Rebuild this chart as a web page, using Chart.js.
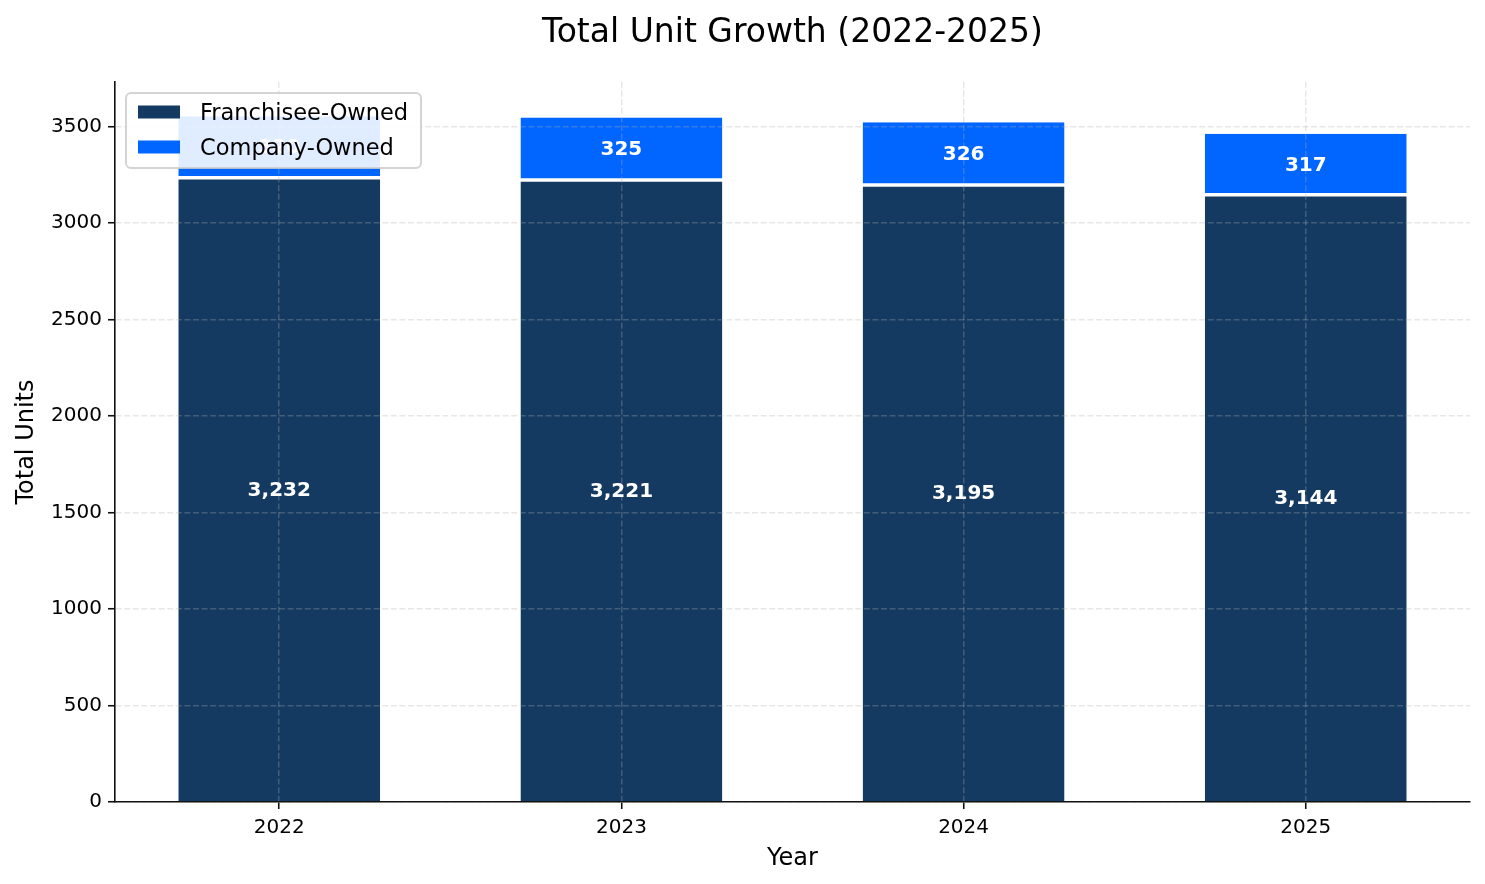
<!DOCTYPE html>
<html>
<head>
<meta charset="utf-8">
<script src="https://cdn.jsdelivr.net/npm/chart.js@4.4.1/dist/chart.umd.min.js"></script>
<style>
  html, body { margin: 0; padding: 0; background: #ffffff; }
  #wrap { width: 1485px; height: 884px; position: relative; }
</style>
</head>
<body>
<div id="wrap"><canvas id="c"></canvas></div>
<script>
// ---- data ----
const years = ['2022', '2023', '2024', '2025'];
const franchiseeOwned = [3232, 3221, 3195, 3144];
const companyOwned = [320, 325, 326, 317];
const seriesNames = ['Franchisee-Owned', 'Company-Owned'];
const yTickValues = [0, 500, 1000, 1500, 2000, 2500, 3000, 3500];
const chartTitle = 'Total Unit Growth (2022-2025)';
const xTitle = 'Year';
const yTitle = 'Total Units';

// ---- style ----
const FONT = "'DejaVu Sans', 'Liberation Sans', sans-serif";
const DARK = '#143a62';
const BLUE = '#0066ff';
const GRID = 'rgba(176,176,176,0.3)';
const AXIS = '#111111';

const yMax = Math.max(...franchiseeOwned.map((v, i) => v + companyOwned[i])) * 1.05;

const toPoints = arr => arr.map((v, i) => ({ x: i, y: v }));

const overlayPlugin = {
  id: 'overlay',
  afterDraw(chart) {
    const ctx = chart.ctx;
    const area = chart.chartArea;
    ctx.save();
    // title
    ctx.fillStyle = '#000';
    ctx.font = `33px ${FONT}`;
    ctx.textAlign = 'center';
    ctx.textBaseline = 'middle';
    ctx.fillText(chartTitle, (area.left + area.right) / 2, 33);

    // value labels
    ctx.font = `bold 20px ${FONT}`;
    ctx.fillStyle = '#ffffff';
    chart.data.datasets.forEach((ds, di) => {
      const meta = chart.getDatasetMeta(di);
      meta.data.forEach((bar, i) => {
        const p = bar.getProps(['x', 'y', 'base'], true);
        const v = ds.data[i].y;
        const txt = di === 0 ? v.toLocaleString('en-US') : String(v);
        ctx.fillText(txt, p.x, (p.y + p.base) / 2 + 1);
      });
    });

    // legend
    const lx = 126, ly = 93, lw = 295, lh = 75, r = 5;
    ctx.beginPath();
    ctx.moveTo(lx + r, ly);
    ctx.lineTo(lx + lw - r, ly);
    ctx.arcTo(lx + lw, ly, lx + lw, ly + r, r);
    ctx.lineTo(lx + lw, ly + lh - r);
    ctx.arcTo(lx + lw, ly + lh, lx + lw - r, ly + lh, r);
    ctx.lineTo(lx + r, ly + lh);
    ctx.arcTo(lx, ly + lh, lx, ly + lh - r, r);
    ctx.lineTo(lx, ly + r);
    ctx.arcTo(lx, ly, lx + r, ly, r);
    ctx.closePath();
    ctx.fillStyle = 'rgba(255,255,255,0.88)';
    ctx.fill();
    ctx.lineWidth = 2;
    ctx.strokeStyle = 'rgba(204,204,204,0.85)';
    ctx.stroke();

    ctx.font = `22.5px ${FONT}`;
    ctx.textAlign = 'left';
    ctx.textBaseline = 'middle';
    const rows = [112, 147];
    chart.data.datasets.forEach((ds, di) => {
      ctx.fillStyle = ds.backgroundColor;
      ctx.fillRect(138, rows[di] - 6.5, 42, 13);
      ctx.fillStyle = '#000';
      ctx.fillText(ds.label, 200, rows[di] + 2);
    });
    ctx.restore();
  }
};

new Chart(document.getElementById('c'), {
  type: 'bar',
  data: {
    datasets: [
      {
        label: seriesNames[0],
        data: toPoints(franchiseeOwned),
        backgroundColor: DARK,
        borderColor: '#ffffff',
        borderWidth: { top: 1.5, bottom: 0, left: 0, right: 0 },
        borderSkipped: false,
        barPercentage: 0.59,
        categoryPercentage: 1.0
      },
      {
        label: seriesNames[1],
        data: toPoints(companyOwned),
        backgroundColor: BLUE,
        borderColor: '#ffffff',
        borderWidth: { top: 0, bottom: 2, left: 0, right: 0 },
        borderSkipped: false,
        barPercentage: 0.59,
        categoryPercentage: 1.0
      }
    ]
  },
  options: {
    responsive: true,
    maintainAspectRatio: false,
    animation: false,
    layout: { padding: { top: 82, right: 15, left: 0, bottom: 0 } },
    plugins: {
      legend: { display: false },
      title: { display: false },
      tooltip: { enabled: false }
    },
    scales: {
      x: {
        type: 'linear',
        stacked: true,
        offset: false,
        min: -0.48,
        max: 3.48,
        z: 1,
        afterFit(scale) { scale.height = 82; },
        afterBuildTicks(scale) { scale.ticks = years.map((_, i) => ({ value: i })); },
        ticks: {
          stepSize: 1,
          includeBounds: false,
          color: '#000',
          padding: 7,
          font: { family: FONT, size: 20 },
          callback: v => years[v] ?? ''
        },
        grid: {
          display: true,
          offset: false,
          z: 1,
          color: GRID,
          lineWidth: 1.5,
          drawTicks: true,
          tickLength: 7,
          tickColor: AXIS,
          tickWidth: 1.6
        },
        border: { display: true, color: AXIS, width: 1.6, dash: [6, 2.6], z: 2 },
        title: {
          display: true,
          text: xTitle,
          color: '#000',
          font: { family: FONT, size: 24 },
          padding: { top: 0, bottom: 11 }
        }
      },
      y: {
        stacked: true,
        min: 0,
        max: yMax,
        z: 1,
        afterFit(scale) { scale.width = 115; },
        afterBuildTicks(scale) { scale.ticks = yTickValues.map(v => ({ value: v })); },
        ticks: {
          stepSize: 500,
          includeBounds: false,
          color: '#000',
          padding: 6,
          font: { family: FONT, size: 20 },
          callback: v => String(v)
        },
        grid: {
          display: true,
          z: 1,
          color: GRID,
          lineWidth: 1.5,
          drawTicks: true,
          tickLength: 7,
          tickColor: AXIS,
          tickWidth: 1.6
        },
        border: { display: true, color: AXIS, width: 1.6, dash: [6, 2.6], z: 2 },
        title: {
          display: true,
          text: yTitle,
          color: '#000',
          font: { family: FONT, size: 24 },
          padding: { top: 12, bottom: 0 }
        }
      }
    }
  },
  plugins: [overlayPlugin]
});
</script>
</body>
</html>
